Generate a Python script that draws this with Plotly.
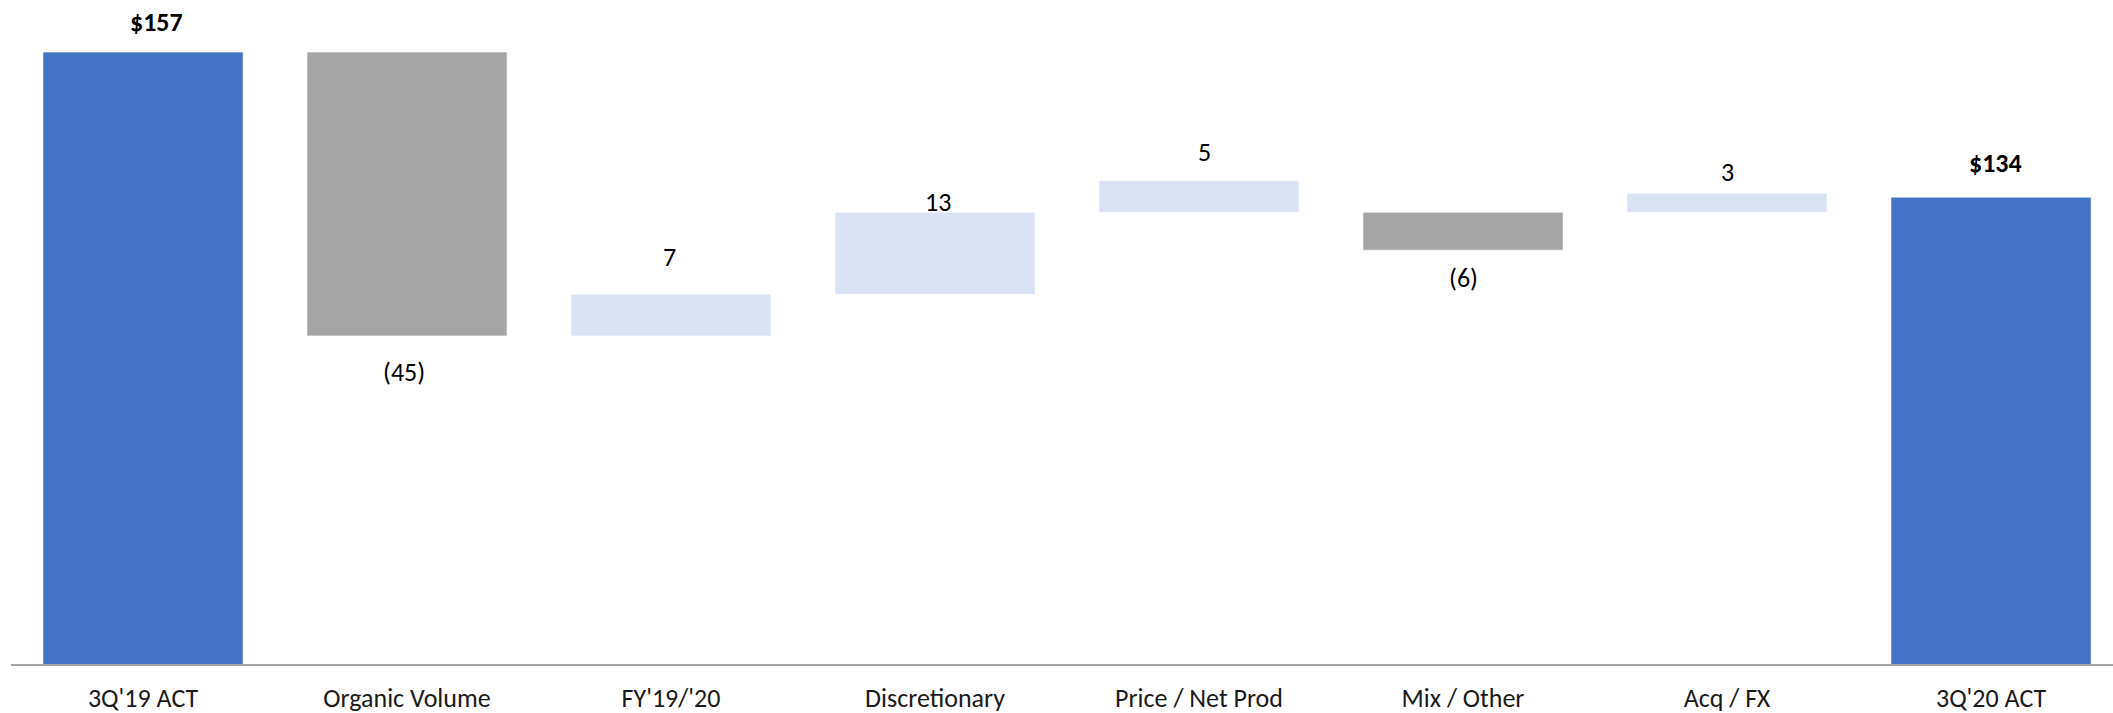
import plotly.graph_objects as go

# ---- data ----
categories = ["3Q'19 ACT", "Organic Volume", "FY'19/'20", "Discretionary",
              "Price / Net Prod", "Mix / Other", "Acq / FX", "3Q'20 ACT"]
bar_kind = ["total", "delta", "delta", "delta", "delta", "delta", "delta", "total"]
bar_start = [0, 157, 112, 118.6, 131.6, 131.6, 131.6, 0]
bar_value = [157, -45, 6.6, 13, 5, -6, 3, 134]

# ---- style ----
BLUE = "#4472C4"
GRAY = "#A5A5A5"
LIGHT = "#DAE3F3"
FONT = "Calibri, Carlito, Lato, sans-serif"
label_gap_px = [30, 36, 37, 10, 29, 28, 21, 34]
label_dx_px = [13, -3, -2, 3, 5, 0, 0, 4]

colors = []
for kind, v in zip(bar_kind, bar_value):
    if kind == "total":
        colors.append(BLUE)
    elif v < 0:
        colors.append(GRAY)
    else:
        colors.append(LIGHT)

x_idx = list(range(len(categories)))

fig = go.Figure()
fig.add_trace(go.Bar(
    x=x_idx, y=bar_value, base=bar_start,
    width=0.758,
    marker=dict(color=colors, line=dict(color="rgba(255,255,255,0.6)", width=1)),
    hoverinfo="skip",
    showlegend=False,
))

annotations = []
for i, (kind, s, v) in enumerate(zip(bar_kind, bar_start, bar_value)):
    end = s + v
    r = round(v)
    if kind == "total":
        txt = f"<b>${r}</b>"
    elif r < 0:
        txt = f"({abs(r)})"
    else:
        txt = f"{r}"
    shift = label_gap_px[i] if v >= 0 else -label_gap_px[i]
    annotations.append(dict(
        x=i, y=end, xref="x", yref="y", text=txt, showarrow=False,
        yanchor="middle", xanchor="center", yshift=shift, xshift=label_dx_px[i],
        font=dict(family=FONT, size=26, color="#000000"),
    ))

fig.update_layout(
    width=2113, height=713,
    margin=dict(l=11, r=0, t=0, b=49, pad=0),
    paper_bgcolor="white", plot_bgcolor="white",
    annotations=annotations,
    bargap=0.242,
    xaxis=dict(
        tickmode="array", tickvals=x_idx, ticktext=categories,
        range=[-0.5, 7.462], showgrid=False, zeroline=False,
        showline=True, linecolor="#A6A6A6", linewidth=2,
        ticks="", ticklabelstandoff=10,
        tickfont=dict(family=FONT, size=26, color="#1a1a1a"),
        fixedrange=True,
    ),
    yaxis=dict(
        range=[60, 165.25], visible=False, showgrid=False, zeroline=False,
        fixedrange=True,
    ),
)

fig.write_html("out.html")
